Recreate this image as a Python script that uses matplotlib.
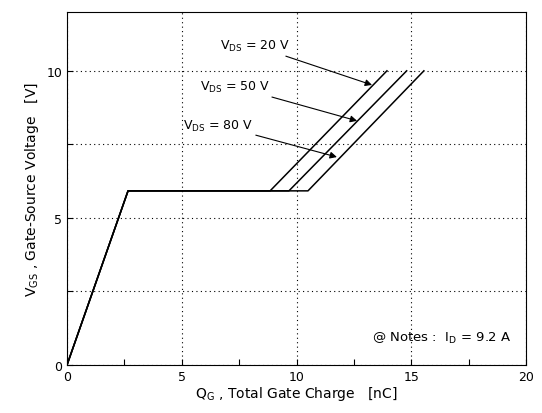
import matplotlib
matplotlib.use('Agg')
import matplotlib.pyplot as plt
from matplotlib.ticker import MultipleLocator

plt.rcParams['font.family'] = 'DejaVu Sans'
plt.rcParams['mathtext.default'] = 'regular'

# gate charge curves: Qg [nC] vs Vgs [V]
qg_20 = [0, 2.66, 8.85, 13.94]
qg_50 = [0, 2.66, 9.67, 14.80]
qg_80 = [0, 2.66, 10.50, 15.55]
vgs = [0, 5.92, 5.92, 10.0]

labels = ['$V_{DS}$ = 20 V', '$V_{DS}$ = 50 V', '$V_{DS}$ = 80 V']
text_xy = [(8.19, 10.85), (7.32, 9.46), (6.58, 8.16)]
tip_xy = [(13.29, 9.52), (12.64, 8.30), (11.76, 7.07)]

fig = plt.figure(figsize=(5.42, 4.14), dpi=100)
ax = fig.add_axes([0.1236, 0.1159, 0.8469, 0.8527])

for q in (qg_20, qg_50, qg_80):
    ax.plot(q, vgs, color='black', lw=1.1)

for lab, (tx, ty), (px, py) in zip(labels, text_xy, tip_xy):
    ax.annotate(lab, xy=(px, py), xytext=(tx, ty), fontsize=9,
                ha='center', va='center',
                arrowprops=dict(arrowstyle='-|>', color='black', lw=0.8,
                                shrinkA=0, shrinkB=0, mutation_scale=10))

ax.text(19.35, 0.95, '@ Notes :  $I_D$ = 9.2 A', fontsize=9.5, ha='right', va='center')

ax.set_xlim(0, 20)
ax.set_ylim(0, 12)
ax.xaxis.set_major_locator(MultipleLocator(5))
ax.xaxis.set_minor_locator(MultipleLocator(2.5))
ax.tick_params(which='both', direction='in', top=False, right=False,
               labelsize=9, length=4, width=0.8)
ax.grid(axis='x', which='major', linestyle=(0, (1, 3)), color='black', lw=0.8)
ax.grid(axis='y', which='both', linestyle=(0, (1, 3)), color='black', lw=0.8)
ax.set_yticks([0, 5, 10])
ax.set_yticks([2.5, 7.5], minor=True)

ax.set_xlabel('$Q_G$ , Total Gate Charge   [nC]', fontsize=10, labelpad=1)
ax.set_ylabel('$V_{GS}$ , Gate-Source Voltage   [V]', fontsize=10, labelpad=4)

fig.savefig('out.png', dpi=100)
